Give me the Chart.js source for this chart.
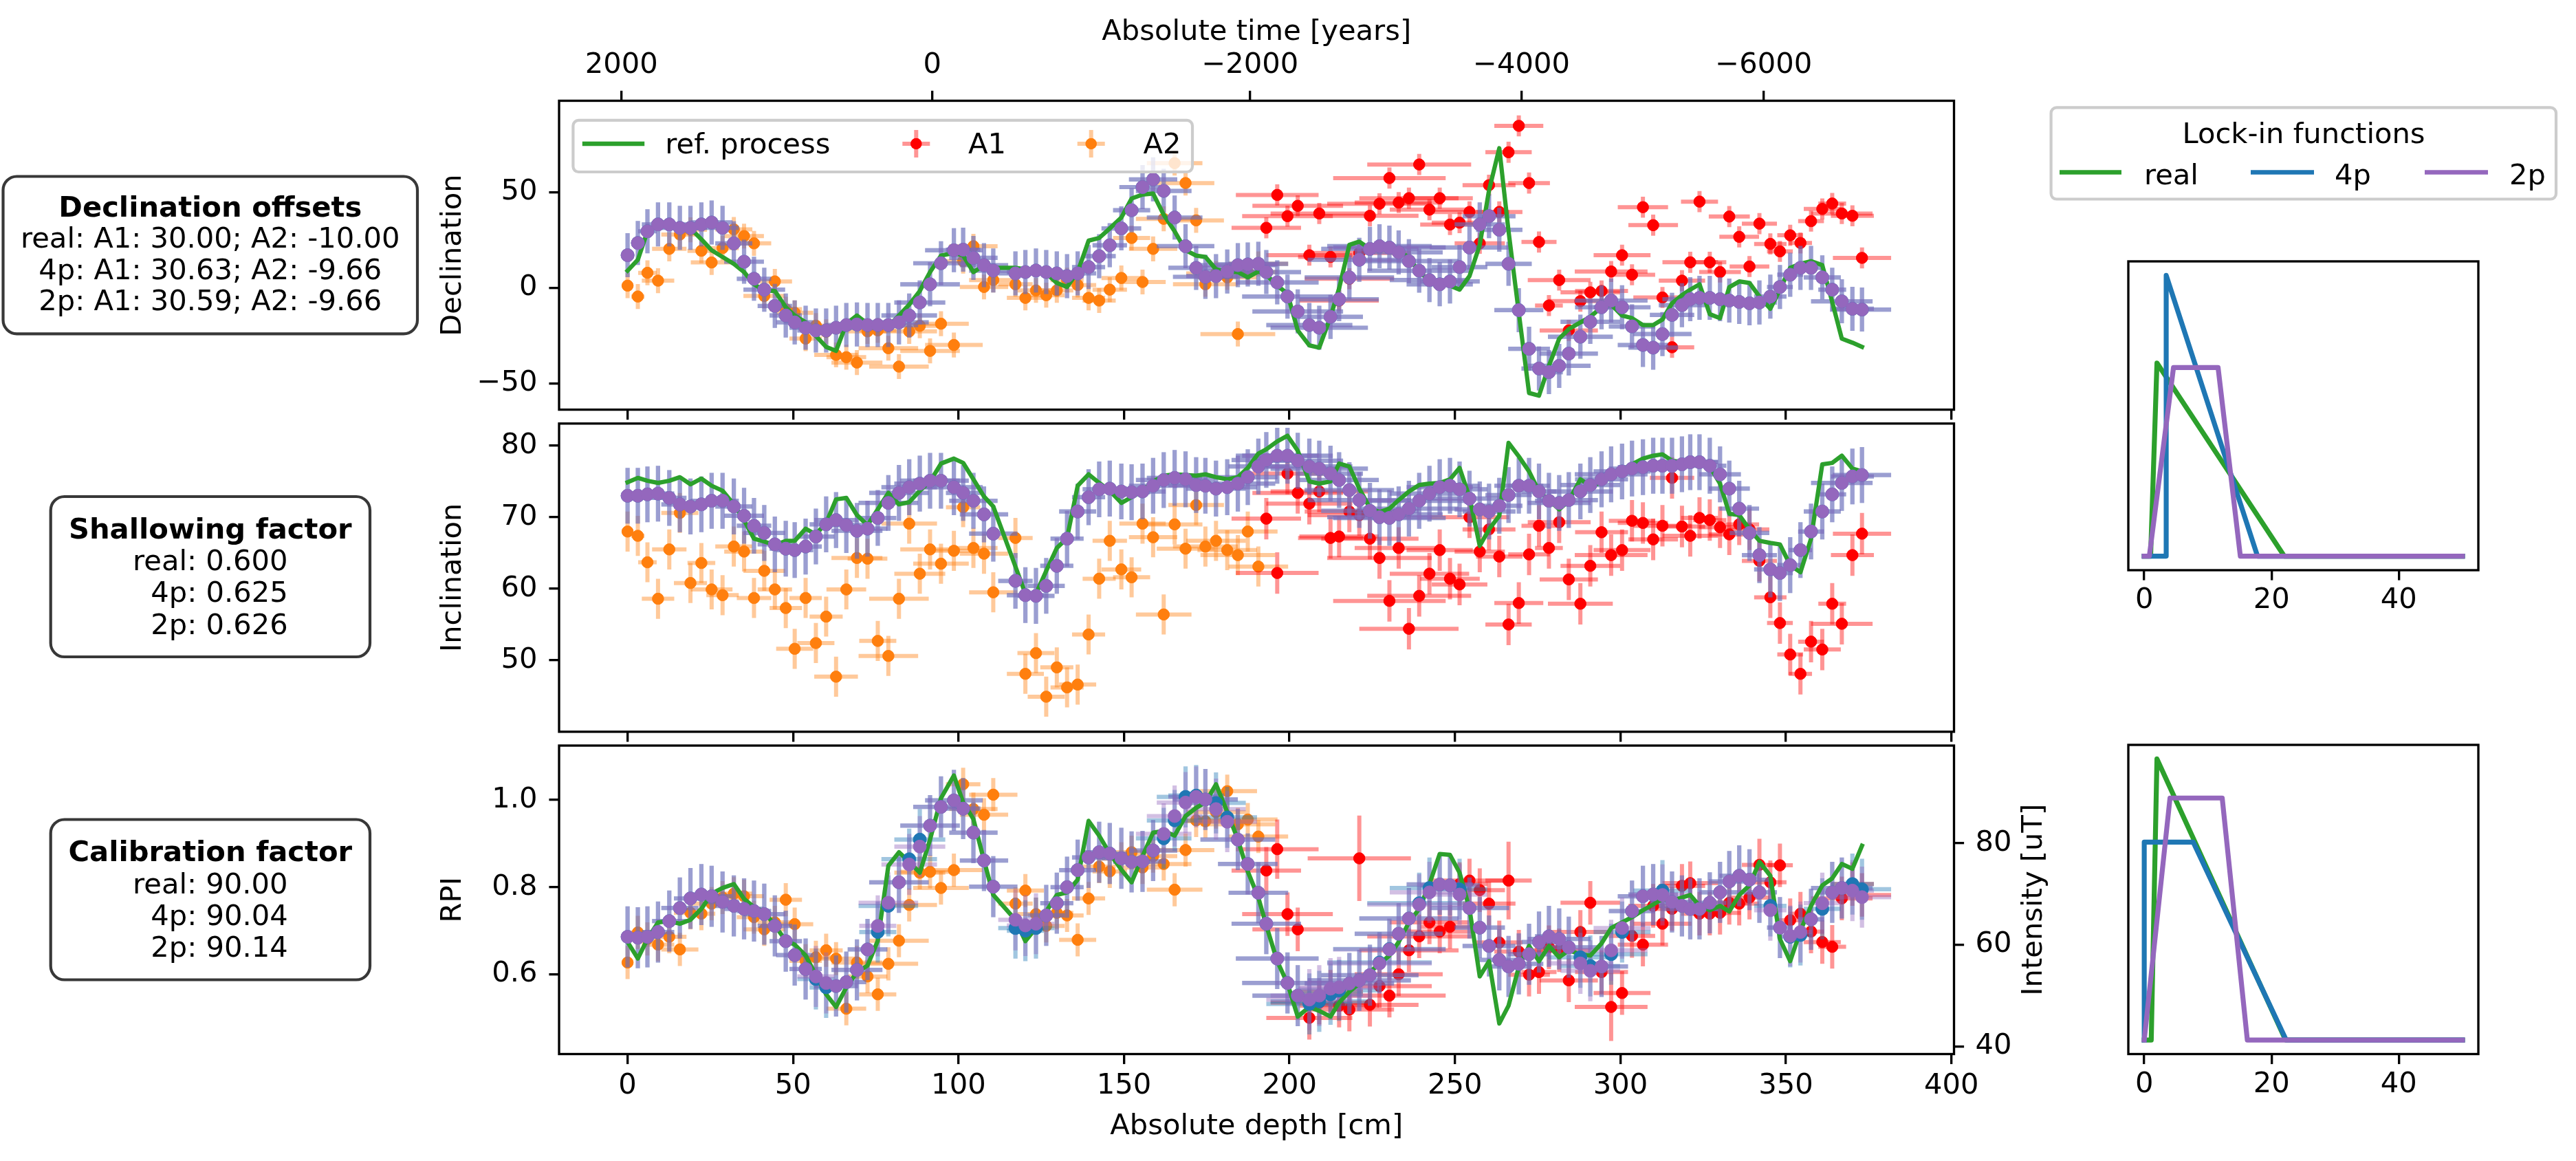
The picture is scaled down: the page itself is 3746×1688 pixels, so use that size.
<!DOCTYPE html>
<html><head><meta charset="utf-8">
<script src="https://cdn.jsdelivr.net/npm/chart.js@4.4.1/dist/chart.umd.min.js"></script>
<style>
html,body{margin:0;padding:0;background:#fff;}
#wrap{position:relative;width:3746px;height:1688px;overflow:hidden;background:#fff;}
canvas{position:absolute;left:0;top:0;width:3746px;height:1688px;}
</style></head><body><div id="wrap">
<canvas id="c1" width="3746" height="1688"></canvas>
<canvas id="c2" width="3746" height="1688"></canvas>
<canvas id="c3" width="3746" height="1688"></canvas>
<canvas id="c4" width="3746" height="1688"></canvas>
<canvas id="c5" width="3746" height="1688"></canvas>
</div>
<script>
// ---------------- DATA ----------------
const depthTicks = [0,50,100,150,200,250,300,350,400];
const timeTickYears = [2000,0,-2000,-4000,-6000];
const timeTickDepths = [-1.83,92.1,188.1,270.1,343.3];
const decTicks = [-50,0,50];
const incTicks = [50,60,70,80];
const rpiTicks = [0.6,0.8,1.0];
const intensityTicks = [40,60,80];
const lockTicks = [0,20,40];

// sample depths (cm)
const depthA2 = [0.0,3.1,6.0,9.2,12.6,15.8,19.0,22.3,25.4,28.7,32.1,35.2,38.2,41.3,44.5,47.8,50.5,53.8,56.9,60.0,63.0,66.1,69.3,72.5,75.6,78.8,82.0,85.1,88.3,91.4,94.7,98.6,101.4,104.5,107.7,110.5,117.2,120.2,123.4,126.5,129.7,132.8,136.0,139.3,142.5,145.7,149.2,152.3,155.6,158.8,162.0,165.3,168.6,171.8,174.6,177.8,181.2,184.4,187.4,190.6];
const depthA1 = [193.0,196.3,199.4,202.5,206.0,209.0,212.4,215.0,218.1,221.1,224.3,227.2,230.2,233.0,236.1,239.2,242.3,245.4,248.5,251.4,254.4,257.5,260.3,263.4,266.2,269.3,272.4,275.4,278.4,281.5,284.4,287.9,290.9,294.3,297.2,300.5,303.5,306.8,309.9,312.7,315.6,318.6,321.1,323.9,327.0,330.1,332.9,335.9,339.0,342.0,345.3,348.2,351.3,354.4,357.6,361.0,364.0,366.9,370.1,373.0];
const xerrA2 = [1.5,2.0,2.8,4.9,5.2,5.6,5.0,4.2,6.3,4.9,5.6,6.0,5.2,6.3,5.2,4.9,5.6,4.9,5.6,5.0,6.6,6.0,7.7,6.0,5.6,9.0,9.0,8.4,7.7,9.0,8.4,8.7,5.2,7.3,7.3,7.3,5.2,5.6,5.6,5.6,5.0,5.0,5.6,5.0,5.0,5.2,6.0,5.6,7.0,7.3,8.4,8.4,8.7,8.4,9.8,9.0,9.0,11.3,9.0,9.0];
const xerrA1 = [10.5,12.5,13.7,13.7,13.0,14.7,9.8,12.0,13.5,15.6,14.7,15.8,17.0,13.3,15.0,15.7,12.0,10.0,9.0,8.4,12.0,7.6,8.0,7.0,7.0,7.4,6.3,5.3,4.2,9.5,8.8,9.8,9.0,8.0,11.0,8.6,7.0,7.6,7.5,8.8,6.7,7.0,8.4,5.6,5.0,6.3,6.2,6.0,6.0,5.3,4.9,3.9,3.9,3.5,3.9,5.6,4.2,9.3,6.5,8.8];

// Declination
const decA2 = [1.1,-4.6,7.8,3.7,20.3,27.8,30.3,19.3,13.2,20.7,30.5,27.0,23.2,-4.3,3.3,-11.2,-13.1,-26.6,-19.8,-23.0,-35.1,-36.3,-39.1,-22.8,-22.3,-31.6,-41.2,-22.8,-19.9,-33.0,-18.8,-29.9,13.9,21.7,0.4,4.0,1.8,-5.3,-1.4,-3.9,-1.4,4.0,1.4,-5.3,-6.7,-1.0,5.1,26.0,3.0,20.3,36.0,65.1,54.7,35.2,1.8,7.5,5.4,-24.2,8.2,12.5];
const decA1 = [31.3,48.5,37.4,42.8,17.0,38.8,16.1,-6.7,4.7,18.2,37.6,43.9,57.3,44.5,46.8,64.4,40.8,46.8,33.0,34.0,39.6,23.2,53.6,39.6,70.8,84.6,54.7,23.9,-9.3,4.0,-22.3,-7.0,-2.4,-1.7,8.5,17.0,6.8,42.1,32.7,-5.1,-31.1,3.7,13.3,45.0,13.3,8.2,37.2,26.6,11.1,33.5,22.9,19.0,27.4,23.4,34.8,41.2,44.0,38.8,37.6,15.6];
const dec2pA2 = [17.0,23.4,29.5,33.1,33.1,31.3,31.3,33.1,34.1,31.3,23.2,13.6,4.7,-1.0,-9.5,-14.5,-18.1,-20.9,-22.3,-22.3,-20.9,-19.5,-19.2,-19.5,-19.5,-19.5,-18.1,-14.5,-7.7,1.8,12.8,19.6,19.9,15.6,11.8,9.0,7.5,8.2,9.0,8.2,7.5,6.1,7.5,10.8,16.5,22.2,31.0,40.5,52.6,56.6,50.6,36.7,21.7,10.4,5.7,6.1,8.5,11.8,12.2,12.5];
const dec2pA1 = [8.2,2.8,-4.6,-12.4,-19.5,-20.9,-15.2,-6.0,5.4,14.6,20.3,21.7,21.0,18.5,13.9,8.9,4.0,1.8,3.3,10.8,21.0,33.1,37.4,30.3,12.5,-11.7,-31.9,-42.2,-44.1,-40.8,-34.4,-25.6,-17.8,-10.2,-6.7,-10.2,-20.2,-29.9,-31.3,-24.2,-14.2,-9.1,-6.0,-5.3,-5.3,-6.0,-6.7,-7.4,-8.1,-7.7,-4.6,0.4,6.8,10.4,10.4,5.4,-1.0,-7.1,-11.0,-11.4];
const dec4pA2 = dec2pA2; // 4p estimate coincides visually with 2p here
const dec4pA1 = dec2pA1;
const decRefA2 = [8.9,14.6,29.5,33.8,32.4,31.7,31.0,25.3,19.6,16.1,12.5,8.2,1.8,-1.4,-1.7,-10.2,-14.5,-18.1,-25.2,-30.9,-33.0,-18.8,-14.5,-18.8,-20.9,-20.2,-14.5,-8.8,-1.7,8.2,16.8,18.2,16.8,8.2,11.8,10.4,10.4,9.6,8.2,7.5,2.5,0.4,8.2,24.6,26.0,31.0,36.7,46.6,48.7,49.2,38.1,29.5,19.6,16.8,16.1,9.6,8.5,8.2,5.4,8.5];
const decRefA1 = [6.8,1.1,-3.1,-22.3,-30.1,-31.3,-15.2,-0.3,22.4,24.1,20.3,21.0,21.0,19.6,15.6,8.2,4.0,2.5,1.1,-1.0,6.1,22.4,50.9,72.9,29.5,-13.1,-55.0,-56.4,-40.8,-26.6,-21.6,-18.1,-15.2,-10.2,-8.8,-14.5,-15.9,-19.5,-19.5,-16.6,-8.1,-3.9,-1.0,1.8,-13.8,-15.9,0.3,3.3,2.5,-4.6,-11.0,-1.0,10.4,12.5,13.9,11.8,-7.4,-26.6,-28.7,-30.9];

// Inclination
const incA2 = [68.0,67.4,63.7,58.6,65.5,70.6,60.8,63.6,59.9,59.1,65.9,65.2,58.7,62.5,59.9,57.3,51.6,58.7,52.4,56.1,47.7,59.9,64.3,64.2,52.7,50.6,58.6,69.1,62.1,65.5,63.5,65.3,71.4,65.7,64.9,59.5,67.1,48.1,51.0,44.9,49.0,46.2,46.6,53.6,61.4,66.7,62.7,61.6,69.1,67.2,56.4,69.0,65.6,71.7,65.9,66.7,65.4,64.7,68.0,63.1];
const incA1 = [69.8,62.2,76.1,73.4,71.9,73.6,67.1,67.3,70.8,70.3,67.0,64.3,58.3,65.7,54.4,59.0,62.1,65.4,61.4,60.6,70.0,65.2,68.3,64.5,55.0,58.0,64.8,68.8,65.7,69.3,61.3,57.9,63.2,67.9,64.7,65.4,69.5,69.2,66.9,68.8,75.5,68.7,67.4,69.9,69.6,68.6,67.6,69.0,68.3,63.9,58.8,55.2,50.8,48.1,52.6,51.5,57.9,55.1,64.7,67.7];
const inc2pA2 = [73.0,73.0,73.2,73.3,72.7,71.8,71.5,71.8,72.3,72.3,71.5,70.2,68.8,67.8,66.2,65.6,65.4,65.9,67.3,69.0,69.6,68.9,68.1,68.4,69.9,72.0,73.4,74.2,74.7,75.1,75.1,74.2,73.4,72.3,70.4,67.7,61.1,59.1,59.0,60.4,63.2,67.0,70.8,72.8,73.9,74.0,73.6,73.5,73.6,74.4,75.2,75.5,75.3,74.5,74.4,74.0,74.2,74.7,75.6,77.1];
const inc2pA1 = [78.0,78.6,78.6,77.9,77.1,76.8,76.1,75.2,73.8,72.4,70.9,70.0,69.9,70.4,71.2,72.3,73.3,74.2,74.4,73.9,72.6,71.1,70.8,71.6,73.1,74.4,74.4,73.6,72.3,72.0,72.4,73.6,74.5,75.3,76.0,76.4,76.8,77.0,77.2,77.2,77.2,77.4,77.7,77.7,77.2,76.0,74.0,71.2,67.8,64.7,62.7,62.2,63.3,65.4,68.0,70.8,73.2,74.8,75.7,75.9];
const inc4pA2 = inc2pA2;
const inc4pA1 = inc2pA1;
const incRefA2 = [74.9,75.5,75.1,74.8,75.1,75.6,74.6,75.4,74.4,73.7,71.8,69.6,67.0,66.6,66.1,66.7,66.7,68.4,67.6,69.2,72.5,72.7,70.3,68.9,71.1,73.4,71.8,72.1,73.7,75.0,77.5,78.2,77.6,75.3,72.9,71.5,63.1,59.3,59.3,62.5,65.7,67.1,74.4,76.0,74.8,73.7,72.0,72.8,73.7,75.0,75.8,76.0,75.9,75.8,76.0,75.6,75.3,75.6,76.9,78.9];
const incRefA1 = [79.5,80.6,81.4,79.3,75.0,74.7,75.0,77.5,77.1,74.0,71.3,70.7,71.2,72.4,73.6,74.5,74.7,74.8,75.3,76.9,72.8,66.0,68.3,70.2,80.4,78.5,76.4,73.6,72.4,71.1,72.3,75.3,74.4,74.8,75.8,76.6,77.4,78.2,78.6,78.8,77.9,77.7,77.4,77.5,77.1,74.7,70.5,70.3,68.3,66.7,66.4,66.2,63.3,62.3,67.0,77.4,77.6,78.6,76.8,76.4];

// RPI
const rpiA2 = [0.627,0.696,0.681,0.668,0.686,0.657,0.741,0.739,0.762,0.776,0.785,0.779,0.731,0.703,0.719,0.771,0.715,0.631,0.639,0.655,0.636,0.521,0.627,0.595,0.554,0.624,0.677,0.759,0.833,0.835,0.798,0.839,1.036,0.979,0.966,1.012,0.762,0.792,0.738,0.711,0.741,0.735,0.679,0.774,0.847,0.836,0.865,0.880,0.845,0.871,0.853,0.794,0.885,0.953,0.951,0.972,1.020,0.944,0.955,0.916];
const rpiA1 = [0.838,0.887,0.738,0.703,0.500,0.535,0.560,0.528,0.519,0.866,0.530,0.573,0.551,0.600,0.655,0.687,0.719,0.698,0.709,0.807,0.815,0.793,0.762,0.673,0.815,0.652,0.599,0.605,0.662,0.655,0.586,0.697,0.764,0.605,0.525,0.557,0.688,0.668,0.757,0.716,0.750,0.803,0.809,0.739,0.739,0.741,0.764,0.762,0.776,0.851,0.811,0.850,0.724,0.739,0.698,0.674,0.663,0.774,0.807,0.782];
const rpiA1err = [0.054,0.068,0.05,0.05,0.05,0.05,0.05,0.05,0.05,0.098,0.05,0.05,0.05,0.05,0.05,0.05,0.05,0.05,0.05,0.05,0.05,0.05,0.05,0.05,0.089,0.05,0.05,0.05,0.05,0.05,0.05,0.05,0.05,0.05,0.078,0.05,0.05,0.05,0.05,0.05,0.05,0.05,0.05,0.05,0.05,0.05,0.05,0.05,0.05,0.06,0.05,0.05,0.05,0.05,0.05,0.05,0.05,0.05,0.05,0.05];
const rpi2pA2 = [0.686,0.684,0.686,0.697,0.722,0.752,0.774,0.783,0.779,0.766,0.757,0.750,0.745,0.738,0.711,0.676,0.644,0.612,0.595,0.580,0.573,0.582,0.610,0.657,0.711,0.764,0.811,0.852,0.893,0.941,0.984,0.999,0.980,0.925,0.861,0.801,0.725,0.712,0.716,0.735,0.763,0.800,0.839,0.868,0.880,0.877,0.866,0.858,0.859,0.884,0.922,0.963,0.994,1.007,1.001,0.979,0.950,0.909,0.853,0.787];
const rpi2pA1 = [0.716,0.636,0.580,0.551,0.542,0.551,0.567,0.570,0.579,0.586,0.598,0.625,0.657,0.693,0.728,0.760,0.788,0.806,0.804,0.783,0.752,0.707,0.665,0.633,0.618,0.624,0.646,0.674,0.687,0.681,0.662,0.625,0.608,0.618,0.655,0.706,0.745,0.779,0.783,0.782,0.766,0.757,0.750,0.750,0.764,0.788,0.813,0.826,0.817,0.788,0.747,0.707,0.688,0.697,0.726,0.763,0.788,0.798,0.792,0.777];
const rpi4pA2 = [0.686,0.684,0.686,0.697,0.722,0.752,0.774,0.783,0.779,0.766,0.757,0.750,0.745,0.738,0.711,0.676,0.644,0.612,0.589,0.570,0.573,0.582,0.610,0.657,0.697,0.757,0.811,0.864,0.909,0.941,0.984,0.999,0.980,0.925,0.861,0.801,0.706,0.700,0.706,0.735,0.763,0.800,0.839,0.868,0.880,0.877,0.866,0.858,0.859,0.884,0.912,0.953,1.007,1.010,1.001,0.993,0.960,0.909,0.853,0.787];
const rpi4pA1 = [0.716,0.636,0.580,0.551,0.532,0.538,0.554,0.563,0.579,0.586,0.598,0.627,0.658,0.693,0.728,0.763,0.798,0.806,0.804,0.795,0.752,0.707,0.665,0.633,0.618,0.624,0.646,0.674,0.687,0.681,0.662,0.639,0.619,0.618,0.646,0.697,0.745,0.779,0.783,0.792,0.766,0.757,0.750,0.750,0.764,0.788,0.813,0.826,0.817,0.788,0.757,0.707,0.686,0.690,0.726,0.750,0.788,0.798,0.807,0.795];
const rpiRefA2 = [0.674,0.636,0.681,0.719,0.722,0.716,0.725,0.750,0.785,0.798,0.807,0.773,0.754,0.744,0.712,0.677,0.668,0.643,0.598,0.554,0.525,0.570,0.605,0.620,0.677,0.849,0.880,0.858,0.833,0.909,1.004,1.056,0.994,0.956,0.861,0.782,0.725,0.676,0.706,0.744,0.782,0.788,0.817,0.952,0.918,0.877,0.840,0.811,0.871,0.925,0.929,0.918,0.963,0.982,0.994,1.036,0.972,0.909,0.836,0.776];
const rpiRefA1 = [0.712,0.630,0.579,0.503,0.525,0.516,0.503,0.535,0.560,0.579,0.605,0.624,0.643,0.674,0.719,0.750,0.807,0.876,0.874,0.833,0.750,0.595,0.630,0.487,0.528,0.617,0.665,0.630,0.665,0.639,0.655,0.646,0.643,0.671,0.706,0.719,0.731,0.747,0.760,0.773,0.769,0.776,0.782,0.757,0.747,0.757,0.744,0.782,0.804,0.858,0.826,0.681,0.630,0.700,0.757,0.804,0.820,0.853,0.842,0.895];

// Lock-in functions (panel a: declination/inclination, panel b: intensity)
const lockA_realX = [0,1,2,22,50],          lockA_realY = [0,0,0.688,0,0];
const lockA_4pX   = [0,3.45,3.45,17.8,50],  lockA_4pY   = [0,0,1,0,0];
const lockA_2pX   = [0,0.8,4.6,11.6,15.1,50], lockA_2pY = [0,0,0.672,0.672,0,0];
const lockB_realX = [0,1.1,2,22.2,50],      lockB_realY = [0,0,1,0,0];
const lockB_4pX   = [0,0,7.7,22.3,50],      lockB_4pY   = [0,0.704,0.704,0,0];
const lockB_2pX   = [0,4.05,12.25,16.2,50], lockB_2pY   = [0,0.861,0.861,0,0];

const boxDec = ['Declination offsets','real: A1: 30.00; A2: -10.00','4p: A1: 30.63; A2: -9.66','2p: A1: 30.59; A2: -9.66'];
const boxShal = ['Shallowing factor','real: 0.600','  4p: 0.625','  2p: 0.626'];
const boxCal = ['Calibration factor','real: 90.00','  4p: 90.04','  2p: 90.14'];

// ---------------- STYLE / HELPERS ----------------
const FS = 41.67;
const FONT = "'DejaVu Sans'";
Chart.defaults.font.family = FONT;
Chart.defaults.font.size = FS;
Chart.defaults.color = '#000';
const C_GREEN='#2ca02c', C_BLUE='#1f77b4', C_PURPLE='#9467bd', C_ORANGE='#ff7f0e', C_RED='#ff0000';
const XMIN=-20.7, XMAX=400.8;
const W=3746, H=1688;

function pts(xs, ys){ return xs.map((x,i)=>({x:x, y:ys[i]})); }
function fixedTicks(vals){ return function(s){ s.ticks = vals.map(v=>({value:v})); }; }
function fmtMinus(v){ return v<0 ? '\u2212'+Math.abs(v) : String(v); }
const tickGrid = {display:true, drawOnChartArea:false, drawTicks:true, tickLength:14.6, tickWidth:3.33, tickColor:'#000', color:'#000', lineWidth:3.33};

function drawErr(chart, ds){
  const {ctx, chartArea:a} = chart;
  const xs = chart.scales.x, ys = chart.scales.y;
  ctx.save();
  ctx.beginPath(); ctx.rect(a.left, a.top, a.right-a.left, a.bottom-a.top); ctx.clip();
  ctx.strokeStyle = ds.errColor; ctx.lineWidth = ds.errWidth; ctx.lineCap = 'butt';
  ds.data.forEach((p,i)=>{
    const ex = Array.isArray(ds.errX) ? ds.errX[i] : ds.errX;
    const ey = Array.isArray(ds.errY) ? ds.errY[i] : ds.errY;
    const px = xs.getPixelForValue(p.x), py = ys.getPixelForValue(p.y);
    ctx.beginPath();
    ctx.moveTo(xs.getPixelForValue(p.x-ex), py); ctx.lineTo(xs.getPixelForValue(p.x+ex), py);
    ctx.stroke();
    ctx.beginPath();
    ctx.moveTo(px, ys.getPixelForValue(p.y-ey)); ctx.lineTo(px, ys.getPixelForValue(p.y+ey));
    ctx.stroke();
  });
  ctx.restore();
}
const errorBarPlugin = {
  id:'errbars',
  beforeDatasetDraw(chart, args){
    const dss = chart.data.datasets;
    const host = dss[args.index].key;
    for (let i=dss.length-1;i>=0;i--){
      const ds = dss[i];
      if (ds.errX === undefined) continue;
      if ((ds.errHost || ds.key) !== host) continue;
      drawErr(chart, ds);
    }
  }
};
const framePlugin = {
  id:'frame',
  afterDraw(chart){
    const {ctx, chartArea:a} = chart;
    ctx.save(); ctx.strokeStyle='#000'; ctx.lineWidth=3.33;
    ctx.strokeRect(a.left, a.top, a.right-a.left, a.bottom-a.top);
    ctx.restore();
  }
};
function rrect(ctx,x,y,w,h,r){
  ctx.beginPath(); ctx.moveTo(x+r,y);
  ctx.arcTo(x+w,y,x+w,y+h,r); ctx.arcTo(x+w,y+h,x,y+h,r);
  ctx.arcTo(x,y+h,x,y,r); ctx.arcTo(x,y,x+w,y,r); ctx.closePath();
}
function drawBox(ctx, rect, lines, baselines, cx){
  ctx.save();
  rrect(ctx, rect[0], rect[1], rect[2]-rect[0], rect[3]-rect[1], 20);
  ctx.fillStyle='#fff'; ctx.fill();
  ctx.strokeStyle='rgba(0,0,0,0.78)'; ctx.lineWidth=4.2; ctx.stroke();
  ctx.fillStyle='#000'; ctx.textAlign='center'; ctx.textBaseline='alphabetic';
  lines.forEach((t,i)=>{
    ctx.font = (i===0?'bold ':'') + FS + 'px ' + FONT;
    ctx.fillText(t, cx, baselines[i]);
  });
  ctx.restore();
}
function errHandle(ctx, x, y, color, errColor){
  ctx.save();
  ctx.strokeStyle=errColor; ctx.lineWidth=6;
  ctx.beginPath(); ctx.moveTo(x-20,y); ctx.lineTo(x+20,y); ctx.stroke();
  ctx.beginPath(); ctx.moveTo(x,y-20); ctx.lineTo(x,y+20); ctx.stroke();
  ctx.fillStyle=color; ctx.beginPath(); ctx.arc(x,y,8.3,0,Math.PI*2); ctx.fill();
  ctx.restore();
}
function lineHandle(ctx, x1, x2, y, color){
  ctx.save(); ctx.strokeStyle=color; ctx.lineWidth=6.5; ctx.lineCap='butt';
  ctx.beginPath(); ctx.moveTo(x1,y); ctx.lineTo(x2,y); ctx.stroke(); ctx.restore();
}
const annotationPlugin = {
  id:'annot',
  afterDraw(chart){
    const ctx = chart.ctx;
    // parameter boxes
    drawBox(ctx, [4.5,256.5,607,485.3], boxDec, [314.5,360,405.5,451], 305.8);
    drawBox(ctx, [73.7,722,538,955], boxShal, [782.6,829,875.3,921.6], 305.8);
    drawBox(ctx, [73.7,1191.5,538,1424.5], boxCal, [1252.1,1298.5,1344.8,1391.1], 305.8);
    // main legend
    ctx.save();
    rrect(ctx, 833.4, 174.8, 1734-833.4, 250-174.8, 8);
    ctx.fillStyle='rgba(255,255,255,0.8)'; ctx.fill();
    ctx.strokeStyle='#cccccc'; ctx.lineWidth=4.2; ctx.stroke();
    ctx.restore();
    lineHandle(ctx, 846.8, 937.2, 209, C_GREEN);
    errHandle(ctx, 1332.3, 209, C_RED, 'rgba(255,0,0,0.42)');
    errHandle(ctx, 1586.7, 209, C_ORANGE, 'rgba(255,127,14,0.42)');
    ctx.save(); ctx.fillStyle='#000'; ctx.font=FS+'px '+FONT; ctx.textBaseline='alphabetic'; ctx.textAlign='left';
    ctx.fillText('ref. process', 967.3, 223.4);
    ctx.fillText('A1', 1408, 223.4);
    ctx.fillText('A2', 1662.4, 223.4);
    ctx.restore();
    // lock-in legend
    ctx.save();
    rrect(ctx, 2982.6, 156.3, 3717-2982.6, 289.5-156.3, 8);
    ctx.fillStyle='rgba(255,255,255,0.8)'; ctx.fill();
    ctx.strokeStyle='#cccccc'; ctx.lineWidth=4.2; ctx.stroke();
    ctx.fillStyle='#000'; ctx.font=FS+'px '+FONT; ctx.textBaseline='alphabetic';
    ctx.textAlign='center'; ctx.fillText('Lock-in functions', 3350, 208);
    ctx.textAlign='left';
    ctx.fillText('real', 3118, 268.3); ctx.fillText('4p', 3395, 268.3); ctx.fillText('2p', 3649, 268.3);
    ctx.restore();
    lineHandle(ctx, 2995, 3085, 250.5, C_GREEN);
    lineHandle(ctx, 3273, 3365, 250.5, C_BLUE);
    lineHandle(ctx, 3526, 3618, 250.5, C_PURPLE);
  }
};
const rightTitlePlugin = {
  id:'rtitle',
  afterDraw(chart){
    const ctx=chart.ctx, a=chart.chartArea;
    ctx.save(); ctx.translate(2958, (a.top+a.bottom)/2); ctx.rotate(-Math.PI/2);
    ctx.fillStyle='#000'; ctx.font=FS+'px '+FONT; ctx.textAlign='center'; ctx.textBaseline='middle';
    ctx.fillText('Intensity [uT]', 0, 0); ctx.restore();
  }
};

function panelDatasets(obsA1, obsA2, m2pA2, m2pA1, m4pA2, m4pA1, refA2, refA1, e){
  const allD = depthA2.concat(depthA1);
  const allXe = xerrA2.concat(xerrA1);
  return [
    {key:'p2', label:'2p', data:pts(allD, m2pA2.concat(m2pA1)), xAxisID:'x', yAxisID:'y',
     pointRadius:9.5, pointBackgroundColor:C_PURPLE, pointBorderColor:C_PURPLE, pointBorderWidth:1,
     errX:allXe, errY:e.model, errColor:'rgba(148,103,189,0.42)', errWidth:6.2, errHost:'ref'},
    {key:'p4', label:'4p', data:pts(allD, m4pA2.concat(m4pA1)), xAxisID:'x', yAxisID:'y',
     pointRadius:9.5, pointBackgroundColor:C_BLUE, pointBorderColor:C_BLUE, pointBorderWidth:1,
     errX:allXe, errY:e.model, errColor:'rgba(31,119,180,0.42)', errWidth:6.2, errHost:'ref'},
    {key:'ref', label:'ref. process', data:pts(allD, refA2.concat(refA1)), xAxisID:'x', yAxisID:'y',
     showLine:true, pointRadius:0, borderColor:C_GREEN, borderWidth:6.25, borderCapStyle:'square', borderJoinStyle:'round', tension:0},
    {key:'a1', label:'A1', data:pts(depthA1, obsA1), xAxisID:'x', yAxisID:'y',
     pointRadius:8.3, pointBackgroundColor:C_RED, pointBorderColor:C_RED, pointBorderWidth:1,
     errX:xerrA1, errY:e.a1, errColor:'rgba(255,0,0,0.42)', errWidth:6},
    {key:'a2', label:'A2', data:pts(depthA2, obsA2), xAxisID:'x', yAxisID:'y',
     pointRadius:8.3, pointBackgroundColor:C_ORANGE, pointBorderColor:C_ORANGE, pointBorderWidth:1,
     errX:xerrA2, errY:e.a2, errColor:'rgba(255,127,14,0.42)', errWidth:6}
  ];
}
const baseOpts = {responsive:false, animation:false, devicePixelRatio:1, events:[],
  plugins:{legend:{display:false}, tooltip:{enabled:false}}};

function mainChart(id, area, datasets, y, extra){
  const xBottom = {type:'linear', position:'bottom', min:XMIN, max:XMAX,
    afterBuildTicks:fixedTicks(depthTicks), afterFit:s=>{s.height=extra.bottomH;},
    ticks:{display:!!extra.bottomLabels, padding:7.5, maxRotation:0, minRotation:0, autoSkip:false},
    grid:tickGrid, border:{display:false},
    title:{display:!!extra.bottomLabels, text:'Absolute depth [cm]', padding:{top:0,bottom:24.5}}};
  const scales = {x:xBottom};
  if (extra.top){
    scales.xTop = {type:'linear', position:'top', min:XMIN, max:XMAX,
      afterBuildTicks:fixedTicks(timeTickDepths), afterFit:s=>{s.height=area.t-10;},
      ticks:{padding:11.6, maxRotation:0, minRotation:0, autoSkip:false, callback:(v,i)=>fmtMinus(timeTickYears[i])},
      grid:tickGrid, border:{display:false},
      title:{display:true, text:'Absolute time [years]', padding:{top:12.4,bottom:0}}};
  }
  scales.y = {type:'linear', position:'left', min:y.min, max:y.max,
    afterBuildTicks:fixedTicks(y.ticks), afterFit:s=>{s.width=area.l-600;},
    ticks:{padding:17, callback:y.fmt}, grid:tickGrid, border:{display:false},
    title:{display:true, text:y.title, padding:{top:34,bottom:0}}};
  let padRight = W-area.r;
  if (extra.right){
    scales.y2 = {type:'linear', position:'right', min:extra.right.min, max:extra.right.max,
      afterBuildTicks:fixedTicks(intensityTicks), afterFit:s=>{s.width=200;},
      ticks:{padding:16.5}, grid:tickGrid, border:{display:false}};
    padRight = W-area.r-200;
  }
  const plugins = [errorBarPlugin, framePlugin];
  if (extra.plugins) plugins.push(...extra.plugins);
  return new Chart(document.getElementById(id), {
    type:'scatter', data:{datasets},
    options:Object.assign({}, baseOpts, {
      layout:{autoPadding:false, padding:{left:600, right:padRight,
        top: extra.top ? 10 : area.t, bottom: H-area.b-extra.bottomH}},
      scales}),
    plugins});
}

// Panel 1: Declination
mainChart('c1', {l:813,t:146.5,r:2841.5,b:595.6},
  panelDatasets(decA1, decA2, dec2pA2, dec2pA1, dec4pA2, dec4pA1, decRefA2, decRefA1, {a1:5.5, a2:6.5, model:11.5}),
  {min:-63.7, max:97.7, ticks:decTicks, title:'Declination', fmt:v=>fmtMinus(v)},
  {top:true, bottomH:20, plugins:[annotationPlugin]});
// Panel 2: Inclination
mainChart('c2', {l:813,t:615.8,r:2841.5,b:1063.9},
  panelDatasets(incA1, incA2, inc2pA2, inc2pA1, inc4pA2, inc4pA1, incRefA2, incRefA1, {a1:2.9, a2:2.8, model:3.9}),
  {min:40.0, max:83.1, ticks:incTicks, title:'Inclination', fmt:v=>fmtMinus(v)},
  {bottomH:20});
// Panel 3: RPI
mainChart('c3', {l:813,t:1084,r:2841.5,b:1532.5},
  panelDatasets(rpiA1, rpiA2, rpi2pA2, rpi2pA1, rpi4pA2, rpi4pA1, rpiRefA2, rpiRefA1, {a1:rpiA1err, a2:0.038, model:0.07}),
  {min:0.417, max:1.1247, ticks:rpiTicks, title:'RPI', fmt:v=>v.toFixed(1)},
  {bottomH:H-1532.5, bottomLabels:true, right:{min:38.5, max:99.2}, plugins:[rightTitlePlugin]});

// Lock-in panels
function lockChart(id, area, sets){
  const ds = sets.map(s=>({label:s.label, data:pts(s.x, s.y), showLine:true, pointRadius:0,
    borderColor:s.color, borderWidth:7.2, borderCapStyle:'square', borderJoinStyle:'round', tension:0}));
  ds.reverse(); // first dataset is drawn on top in Chart.js
  return new Chart(document.getElementById(id), {
    type:'scatter', data:{datasets:ds},
    options:Object.assign({}, baseOpts, {
      layout:{autoPadding:false, padding:{left:area.l, right:W-area.r, top:area.t, bottom:H-area.b-80}},
      scales:{
        x:{type:'linear', position:'bottom', min:-2.5, max:52.5, afterBuildTicks:fixedTicks(lockTicks),
           afterFit:s=>{s.height=80;}, ticks:{padding:4.7, maxRotation:0, minRotation:0, autoSkip:false},
           grid:tickGrid, border:{display:false}},
        y:{type:'linear', display:false, min:-0.05, max:1.05}
      }}),
    plugins:[framePlugin]});
}
lockChart('c4', {l:3095,t:380,r:3604,b:829}, [
  {label:'real', x:lockA_realX, y:lockA_realY, color:C_GREEN},
  {label:'4p', x:lockA_4pX, y:lockA_4pY, color:C_BLUE},
  {label:'2p', x:lockA_2pX, y:lockA_2pY, color:C_PURPLE}]);
lockChart('c5', {l:3095,t:1083,r:3604,b:1532.5}, [
  {label:'real', x:lockB_realX, y:lockB_realY, color:C_GREEN},
  {label:'4p', x:lockB_4pX, y:lockB_4pY, color:C_BLUE},
  {label:'2p', x:lockB_2pX, y:lockB_2pY, color:C_PURPLE}]);
</script>
</body></html>
